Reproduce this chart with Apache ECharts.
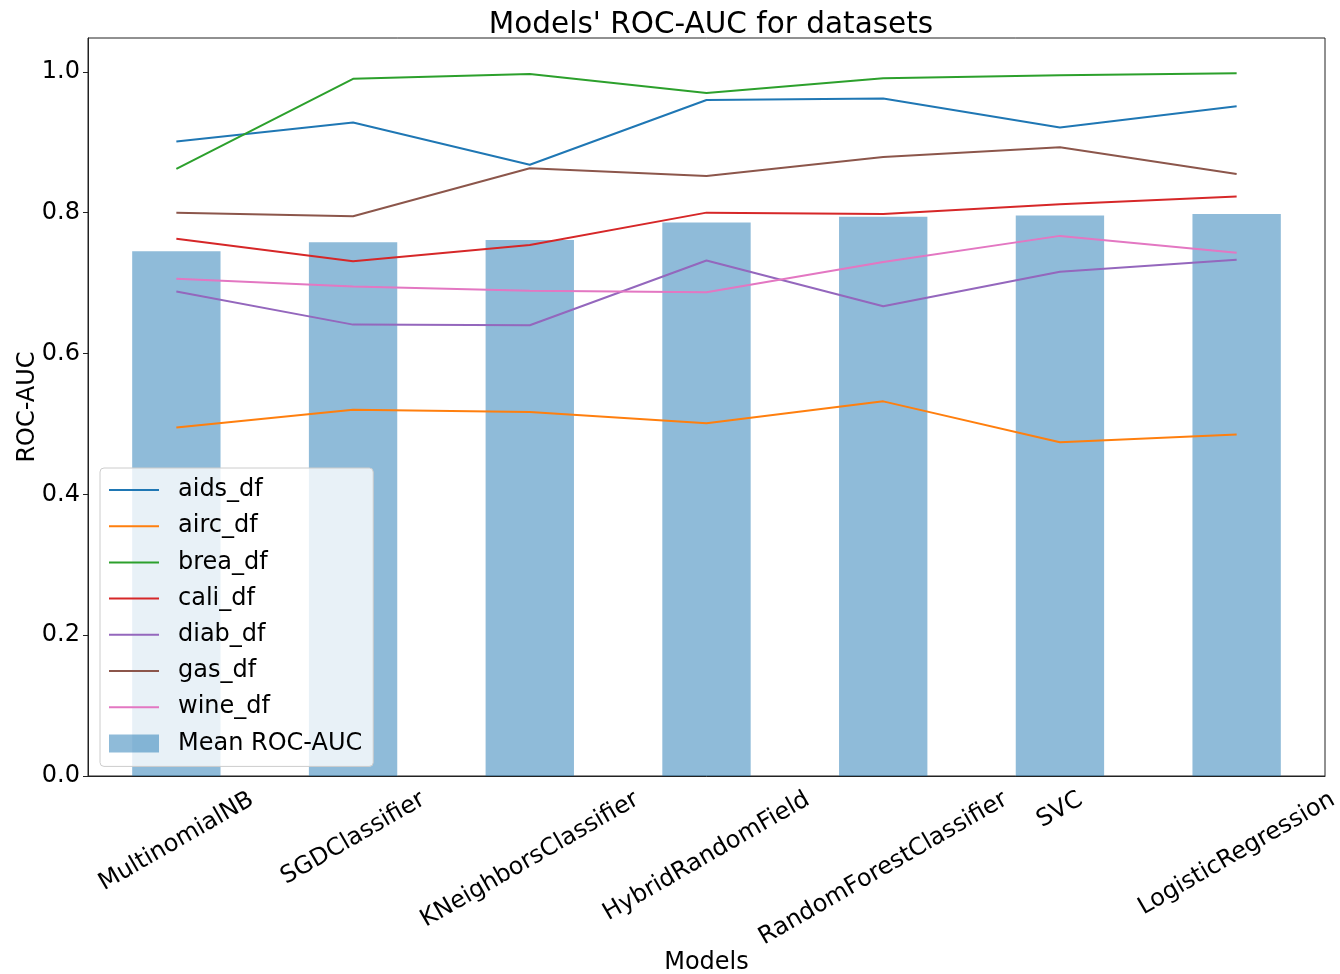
<!DOCTYPE html>
<html><head><meta charset="utf-8">
<script src="https://cdn.jsdelivr.net/npm/echarts@6/dist/echarts.min.js"></script>
<style>html,body{margin:0;padding:0;background:#fff}#c{width:1340px;height:974px}</style>
</head><body><div id="c"></div>
<script>
// ---- data ----
const models = ['MultinomialNB', 'SGDClassifier', 'KNeighborsClassifier', 'HybridRandomField', 'RandomForestClassifier', 'SVC', 'LogisticRegression'];
const aids_df = [0.901, 0.928, 0.868, 0.960, 0.962, 0.921, 0.951];
const airc_df = [0.495, 0.520, 0.517, 0.501, 0.532, 0.474, 0.485];
const brea_df = [0.862, 0.990, 0.997, 0.970, 0.991, 0.995, 0.998];
const cali_df = [0.763, 0.731, 0.754, 0.800, 0.798, 0.812, 0.823];
const diab_df = [0.688, 0.641, 0.640, 0.732, 0.667, 0.716, 0.733];
const gas_df  = [0.800, 0.795, 0.863, 0.852, 0.879, 0.893, 0.855];
const wine_df = [0.706, 0.695, 0.689, 0.687, 0.730, 0.767, 0.743];
const meanRocAuc = [0.745, 0.758, 0.761, 0.786, 0.794, 0.796, 0.798];
const yTicks = [0, 0.2, 0.4, 0.6, 0.8, 1.0];

const lineSeriesDefs = [
  ['aids_df', aids_df, '#1f77b4'],
  ['airc_df', airc_df, '#ff7f0e'],
  ['brea_df', brea_df, '#2ca02c'],
  ['cali_df', cali_df, '#d62728'],
  ['diab_df', diab_df, '#9467bd'],
  ['gas_df', gas_df, '#8c564b'],
  ['wine_df', wine_df, '#e377c2']
];

const FONT = 'DejaVu Sans';
const FS = 24;
const ctx = document.createElement('canvas').getContext('2d');
ctx.font = FS + 'px "' + FONT + '"';
const rich = {};
models.forEach((m, i) => {
  const L = ctx.measureText(m).width;
  const d = 0.25 * L;
  rich['s' + i] = { fontSize: FS, fontFamily: FONT, color: '#000', padding: [1.732 * d, d, 0, 0] };
});

const AX = '#222';
const chart = echarts.init(document.getElementById('c'), null, { renderer: 'canvas' });
const series = [{
  name: 'Mean ROC-AUC', type: 'bar', data: meanRocAuc, barWidth: '50%',
  itemStyle: { color: 'rgba(31,119,180,0.5)' }, z: 1
}].concat(lineSeriesDefs.map(([n, d, c]) => ({
  name: n, type: 'line', data: d, symbol: 'none', showSymbol: false,
  lineStyle: { width: 2, color: c }, itemStyle: { color: c }, z: 3
})));

chart.setOption({
  animation: false,
  title: {
    text: "Models' ROC-AUC for datasets", left: 706, textAlign: 'center', top: 5,
    textStyle: { fontSize: 29.5, fontWeight: 'normal', color: '#000', fontFamily: FONT }
  },
  grid: { left: 88, right: 15, top: 38, bottom: 198, show: true, borderColor: AX, borderWidth: 1, containLabel: false, outerBoundsMode: 'none' },
  legend: {
    orient: 'vertical', left: 100, top: 468, z: 10,
    data: lineSeriesDefs.map(s => ({ name: s[0], icon: 'path://M0 0H50V2H0Z' })).concat([{ name: 'Mean ROC-AUC', icon: 'rect' }]),
    itemWidth: 50, itemHeight: 18, itemGap: 12.2,
    padding: [10, 11, 11, 9],
    backgroundColor: 'rgba(255,255,255,0.8)', borderColor: '#cccccc', borderWidth: 1, borderRadius: 4,
    textStyle: { fontSize: FS, color: '#000', fontFamily: FONT, padding: [0, 0, 0, 14] }
  },
  xAxis: {
    type: 'category', data: models, boundaryGap: true,
    name: 'Models', nameLocation: 'middle', nameGap: 175, nameMoveOverlap: false,
    nameTextStyle: { fontSize: FS, color: '#000', fontFamily: FONT },
    axisLine: { lineStyle: { color: AX, width: 1 } },
    axisTick: { alignWithLabel: true, length: 5, lineStyle: { color: AX } },
    axisLabel: {
      interval: 0, rotate: 30, align: 'center', verticalAlign: 'middle', margin: 22,
      fontSize: FS, fontFamily: FONT, color: '#000',
      formatter: (v, i) => '{s' + i + '|' + v + '}', rich: rich
    },
    splitLine: { show: false }
  },
  yAxis: {
    type: 'value', min: 0, max: 1.048,
    name: 'ROC-AUC', nameLocation: 'middle', nameGap: 48, nameMoveOverlap: false,
    nameTextStyle: { fontSize: FS, color: '#000', fontFamily: FONT },
    axisLine: { show: true, lineStyle: { color: AX, width: 1 } },
    axisTick: { show: true, length: 5, lineStyle: { color: AX }, customValues: yTicks },
    axisLabel: { fontSize: FS, fontFamily: FONT, color: '#000', margin: 8, customValues: yTicks, formatter: v => v.toFixed(1) },
    splitLine: { show: false }
  },
  series: series
});
</script></body></html>
